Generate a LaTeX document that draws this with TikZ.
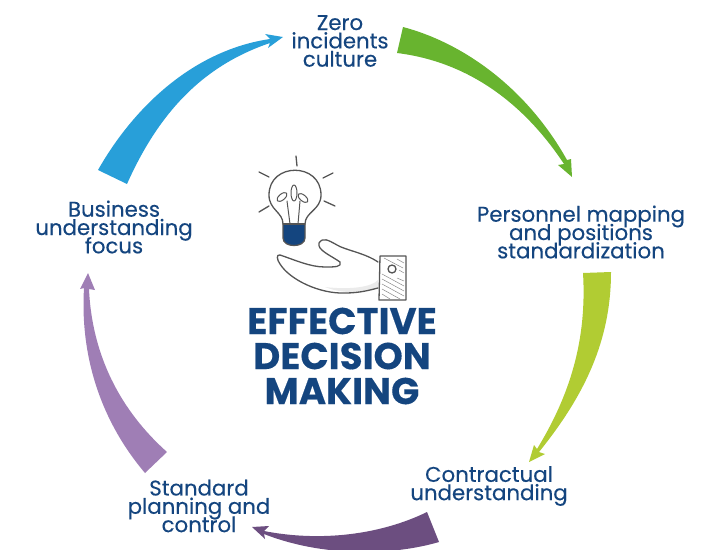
\documentclass[tikz,border=0pt]{standalone}
\usepackage{fontspec}
\setmainfont{Poppins}[FakeBold=0.25]
\newfontfamily\titlefont{Poppins}[FakeBold=0.35]
\definecolor{navy}{HTML}{14457F}
\definecolor{ink}{HTML}{555555}
\definecolor{leaf}{HTML}{68B42F}
\definecolor{lime}{HTML}{B1CC33}
\definecolor{plum}{HTML}{6C4E80}
\definecolor{mauve}{HTML}{9F7EB5}
\definecolor{sky}{HTML}{289FD9}
\newcommand\stepfont{\fontsize{21.3}{18.3}\selectfont\setlength{\lineskiplimit}{-30pt}}
\newcommand\bigfont{\titlefont\fontsize{37.2}{35}\selectfont\bfseries\setlength{\lineskiplimit}{-30pt}}
\tikzset{
  steplabel/.style={text=navy,align=center,font=\stepfont},
  titlelabel/.style={text=navy,align=center,font=\bigfont},
  sketch/.style={draw=ink,line width=1.3pt,line cap=round,line join=round},
  hatch/.style={draw=ink!70,line width=.5pt},
}
\begin{document}
\begin{tikzpicture}[x=1pt,y=-1pt]
  \useasboundingbox (0,0) rectangle (715,549);
  % labels
  \node[steplabel] (zero) at (340,41) {Zero\\incidents\\culture};
  \node[steplabel] (personnel) at (581,232) {Personnel mapping\\and positions\\standardization};
  \node[steplabel] (contract) at (489,486) {Contractual\\understanding};
  \node[steplabel] (standard) at (199,506) {Standard\\planning and\\control};
  \node[steplabel] (business) at (114,227) {Business\\understanding\\focus};
  \node[titlelabel] (title) at (342,356) {EFFECTIVE\\DECISION\\MAKING};
  % arrows
  \fill[leaf] (403,27) .. controls (460,42) and (525,85) .. (567,160)
    -- (571,159) -- (572,177) -- (558,165) -- (564,164)
    .. controls (525,105) and (470,62) .. (397,53) -- cycle;
  \fill[lime] (583,273) -- (611,272) .. controls (611,340) and (585,395) .. (539,452)
    -- (545,454) -- (529,462) -- (534,445) -- (537,449)
    .. controls (570,395) and (587,340) .. (583,273) -- cycle;
  \fill[plum] (427,512) -- (439,542) .. controls (395,555) and (325,558) .. (264,534)
    -- (265,539) -- (252,527) -- (269,526) -- (264,531)
    .. controls (320,542) and (380,535) .. (427,512) -- cycle;
  \fill[mauve] (167,452) -- (145,473) .. controls (100,420) and (80,355) .. (84,288)
    -- (80,289) -- (88,273) -- (95,290) -- (89,289)
    .. controls (92,355) and (120,410) .. (167,452) -- cycle;
  \fill[sky] (98,170) -- (127,184) .. controls (160,110) and (205,65) .. (270,43)
    -- (268,48) -- (283,37) -- (265,34) -- (270,39)
    .. controls (195,50) and (135,105) .. (98,170) -- cycle;
  % bulb
  \draw[sketch] (296,156) -- (297,166);
  \draw[sketch] (259,172) -- (269,177);
  \draw[sketch] (323,178) -- (333,173);
  \draw[sketch] (324,201) -- (335,206);
  \draw[sketch] (259,212) -- (269,206);
  \fill[navy] (283,224) -- (305,224) -- (305,238) .. controls (305,248) and (283,248) .. (283,238) -- cycle;
  \draw[sketch] (283,224) .. controls (283,212) and (269,210) .. (269,195)
    .. controls (269,162) and (321,162) .. (321,195)
    .. controls (321,210) and (305,212) .. (305,224) -- (305,238)
    .. controls (305,248) and (283,248) .. (283,238) -- cycle;
  \draw[sketch] (283,224) -- (305,224);
  \draw[sketch,line width=1pt] (290,224) -- (287,201) (298,224) -- (300,201);
  \draw[sketch,line width=1pt,rotate around={40:(282,197)}] (282,197) ellipse (6 and 3);
  \draw[sketch,line width=1pt] (294,193) ellipse (3 and 8);
  \draw[sketch,line width=1pt,rotate around={-40:(303,198)}] (303,198) ellipse (6 and 3);
  % hand
  \fill[black!8] (378,280) .. controls (372,287) and (350,290) .. (325,287) .. controls (345,295) and (365,292) .. (378,288) -- cycle;
  \draw[sketch] (378,262) .. controls (365,253) and (345,250) .. (337,245)
    .. controls (328,240) and (323,237) .. (319,243)
    .. controls (317,250) and (330,255) .. (340,262)
    .. controls (342,267) and (335,267) .. (325,267)
    .. controls (310,267) and (295,260) .. (280,255)
    .. controls (276,254) and (277,260) .. (280,264)
    .. controls (290,280) and (320,294) .. (345,293)
    .. controls (360,293) and (370,290) .. (378,288);
  \draw[sketch] (380,256) -- (406,256) -- (406,300) -- (379,300) -- cycle;
  \draw[hatch] (384,258) -- (403,268) (397,259) -- (404,263) (399,270) -- (404,273)
    (382,279) -- (404,291) (382,284) -- (404,296) (382,274) -- (404,286)
    (382,289) -- (400,299) (382,294) -- (390,299) (397,278) -- (404,281);
  \draw[sketch,fill=white] (392,269) circle (4);
\end{tikzpicture}
\end{document}
